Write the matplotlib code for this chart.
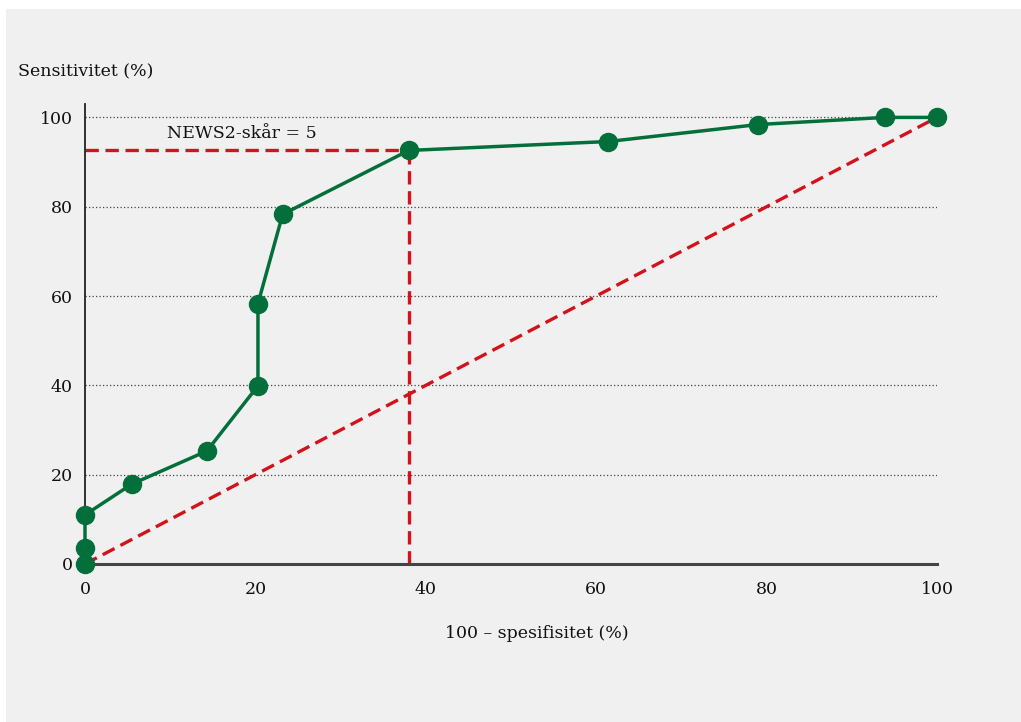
import matplotlib
matplotlib.use("Agg")
import matplotlib.pyplot as plt
from matplotlib.patches import Rectangle

# Data
fpr = [0, 0, 0, 5.5, 14.3, 20.3, 20.3, 23.2, 38.0, 61.4, 79.0, 93.9, 100]
sens = [0, 3.6, 11.0, 17.9, 25.3, 39.9, 58.3, 78.3, 92.6, 94.6, 98.4, 100, 100]
cut_x = 38.0
cut_y = 92.6
ticks = [0, 20, 40, 60, 80, 100]
annot_text = "NEWS2-skår = 5"
xlabel = "100 – spesifisitet (%)"
ylabel = "Sensitivitet (%)"

green = "#036f3a"
red = "#d3121b"
bg = "#f0f0f0"

plt.rcParams['font.family'] = ['DejaVu Serif']

fig = plt.figure(figsize=(10.21, 7.22), dpi=100)
fig.patch.set_facecolor("white")
fig.patches.append(Rectangle((6/1021, 0), 1 - 6/1021, 1 - 9/722,
                             transform=fig.transFigure, facecolor=bg,
                             edgecolor="none", zorder=-10))

ax = fig.add_axes([85/1021, (722-564)/722, 852/1021, 460/722])
ax.set_facecolor("none")
ax.set_xlim(0, 100)
ax.set_ylim(0, 103)

for s in ["top", "right"]:
    ax.spines[s].set_visible(False)
ax.spines["left"].set_color("#222222")
ax.spines["bottom"].set_color("#444444")
ax.spines["left"].set_linewidth(1.3)
ax.spines["bottom"].set_linewidth(2.2)

ax.set_xticks(ticks)
ax.set_yticks(ticks)
ax.tick_params(length=0, labelsize=12.5, colors="#111111")
ax.tick_params(axis="x", pad=12)
ax.tick_params(axis="y", pad=9)

for t in ticks[1:]:
    ax.axhline(t, color="#444444", lw=0.9, ls=(0, (1, 1.8)), zorder=1)

dash = (0, (4, 2.0))
ax.plot([0, 100], [0, 100], color=red, lw=2.4, ls=dash, zorder=2)
ax.plot([0, cut_x], [cut_y, cut_y], color=red, lw=2.4, ls=dash, zorder=2)
ax.plot([cut_x, cut_x], [0, cut_y], color=red, lw=2.4, ls=dash, zorder=2)

ax.plot(fpr, sens, color=green, lw=2.5, marker="o", markersize=13,
        markerfacecolor=green, markeredgecolor=green, zorder=4, clip_on=False)

ax.text(9.6, 96.3, annot_text, fontsize=12.5, va="center", ha="left", color="#111111")

fig.text(18/1021, 1 - 72/722, ylabel, fontsize=12.5, va="center", ha="left", color="#111111")
fig.text(537/1021, 1 - 634/722, xlabel, fontsize=12.5, va="center", ha="center", color="#111111")

fig.savefig("out.png", dpi=100)
